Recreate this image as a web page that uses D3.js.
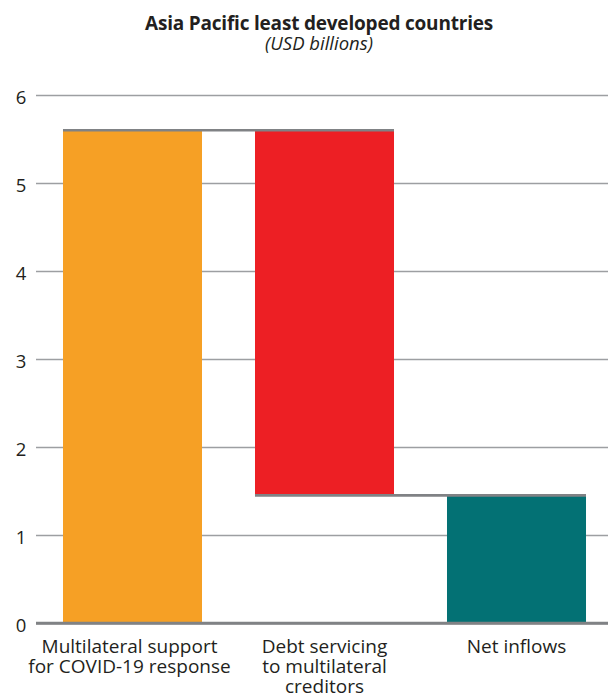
<!DOCTYPE html>
<html>
<head>
<meta charset="utf-8">
<script src="https://cdn.jsdelivr.net/npm/d3@7"></script>
<style>
  html, body { margin: 0; padding: 0; background: #fff; }
  svg { display: block; }
  text { font-family: "Open Sans", "Noto Sans", sans-serif; fill: #231f20; }
</style>
</head>
<body>
<svg id="chart" width="608" height="694"></svg>
<script>
// Waterfall: multilateral support, minus debt servicing, leaves net inflows
const categories = [
  ["Multilateral support", "for COVID-19 response"],
  ["Debt servicing", "to multilateral", "creditors"],
  ["Net inflows"]
];
const steps = [5.60, -4.15, 1.45];       // support, servicing (outflow), net result
const isTotal = [true, false, true];      // totals start at zero
const barColors = ["#f6a025", "#ed1f24", "#037174"];
const yTicks = [0, 1, 2, 3, 4, 5, 6];

const width = 608, height = 694;
const svg = d3.select("#chart");

const x = d3.scaleBand()
  .domain(d3.range(categories.length))
  .range([36.5, 612.5])
  .paddingInner(0.276)
  .paddingOuter(0.138);

const y = d3.scaleLinear().domain([0, 6]).range([623, 95]);

// running levels for each step
let level = 0;
const bars = steps.map((v, i) => {
  let start, end;
  if (isTotal[i]) { start = 0; end = v; }
  else { start = level; end = level + v; }
  level = end;
  return { i, start, end, lo: Math.min(start, end), hi: Math.max(start, end) };
});

// title
svg.append("text")
  .attr("x", 319).attr("y", 30)
  .attr("text-anchor", "middle")
  .style("font-weight", "bold").style("font-size", "19px")
  .style("letter-spacing", "-0.2px")
  .text("Asia Pacific least developed countries");
svg.append("text")
  .attr("x", 319).attr("y", 50)
  .attr("text-anchor", "middle")
  .style("font-style", "italic").style("font-size", "18.5px")
  .text("(USD billions)");

// gridlines and tick labels
const yAxis = svg.append("g")
  .attr("transform", "translate(36,0)")
  .call(d3.axisLeft(y).tickValues(yTicks).tickSize(-(width - 36)).tickFormat(d3.format("d")).tickPadding(0));
yAxis.select(".domain").remove();
yAxis.selectAll(".tick line")
  .attr("stroke", d => d === 0 ? "#808285" : "#9d9fa2")
  .attr("stroke-width", d => d === 0 ? 2.5 : 1.3);
yAxis.selectAll(".tick text")
  .attr("x", -15).attr("dy", "0.45em")
  .attr("text-anchor", "middle")
  .style("font-size", "18.5px")
  .style("font-family", "'Open Sans', 'Noto Sans', sans-serif")
  .attr("fill", "#231f20");

// bars
svg.append("g").selectAll("rect")
  .data(bars)
  .join("rect")
  .attr("x", d => x(d.i))
  .attr("width", x.bandwidth())
  .attr("y", d => y(d.hi))
  .attr("height", d => y(d.lo) - y(d.hi))
  .attr("fill", d => barColors[d.i]);

// redraw the zero line over the bars' feet
svg.append("line")
  .attr("x1", 36).attr("x2", width)
  .attr("y1", y(0)).attr("y2", y(0))
  .attr("stroke", "#808285").attr("stroke-width", 2.5);

// connectors between consecutive bars
svg.append("g").selectAll("line")
  .data(bars.slice(0, -1))
  .join("line")
  .attr("x1", d => x(d.i))
  .attr("x2", d => x(d.i + 1) + x.bandwidth())
  .attr("y1", d => y(d.end)).attr("y2", d => y(d.end))
  .attr("stroke", "#808285").attr("stroke-width", 2.6);

// category labels
const labels = svg.append("g").selectAll("text")
  .data(categories)
  .join("text")
  .attr("x", (d, i) => x(i) + x.bandwidth() / 2 - (i === 0 ? 3 : 0))
  .attr("y", 653)
  .attr("text-anchor", "middle")
  .style("font-size", "19px");
labels.selectAll("tspan")
  .data(d => d)
  .join("tspan")
  .attr("x", function () { return this.parentNode.getAttribute("x"); })
  .attr("dy", (d, j) => j === 0 ? 0 : 20)
  .text(d => d);
</script>
</body>
</html>
